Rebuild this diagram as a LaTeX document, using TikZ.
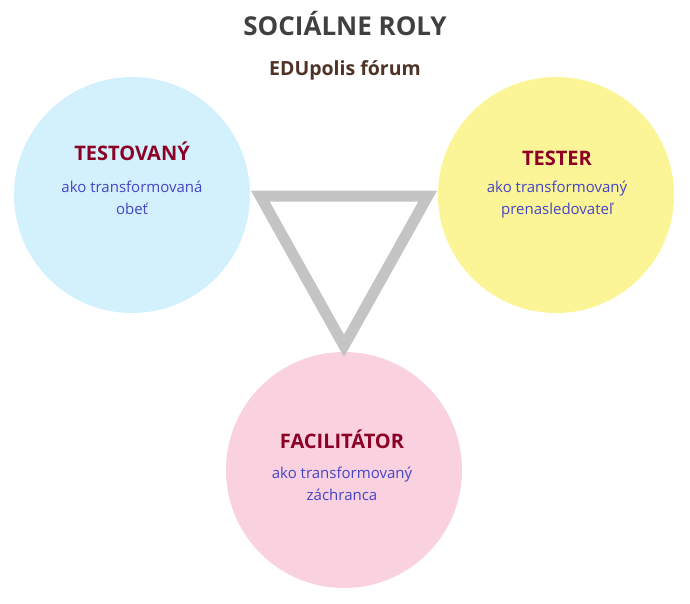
\documentclass[tikz,border=0pt]{standalone}
\usepackage{fontspec}
\setmainfont{Open Sans}
\usepackage{tikz}
\usetikzlibrary{positioning}
\definecolor{rolblue}{RGB}{211,240,253}
\definecolor{rolyellow}{RGB}{251,245,151}
\definecolor{rolpink}{RGB}{249,209,223}
\definecolor{rolgray}{RGB}{196,196,196}
\definecolor{rolred}{RGB}{139,0,36}
\definecolor{rolink}{RGB}{69,69,198}
\definecolor{roldark}{RGB}{64,64,64}
\definecolor{rolbrown}{RGB}{79,51,39}
\tikzstyle{role} = [circle, minimum size=236pt, inner sep=0pt]
\tikzstyle{rolename} = [anchor=base, inner sep=0pt, text=rolred, font=\fontsize{20}{24}\selectfont\bfseries]
\tikzstyle{rolesub} = [anchor=base, inner sep=0pt, align=center, text=rolink, font=\fontsize{15}{22}\selectfont]
\tikzstyle{tri} = [line width=11pt, color=rolgray]

\begin{document}
\begin{tikzpicture}[x=1pt, y=-1pt]
\useasboundingbox (0,0) rectangle (690,603);
% heading
\node (title) [anchor=base, text=roldark, font=\fontsize{26}{30}\selectfont\bfseries] at (345,35) {SOCIÁLNE ROLY};
\node (forum) [anchor=base, text=rolbrown, font=\fontsize{19.5}{22}\selectfont\bfseries] at (345,75) {EDUpolis fórum};

% the three roles
\node (testovany) [role, fill=rolblue] at (132,195) {};
\node (tester) [role, fill=rolyellow] at (556,195) {};
\node (facilitator) [role, fill=rolpink] at (344,470) {};

% triangle between them
\coordinate (tl) at ([xshift=10pt, yshift=-1pt]testovany.east);
\coordinate (tr) at ([xshift=-10pt, yshift=-1pt]tester.west);
\coordinate (bt) at ([yshift=6pt]facilitator.north);
\draw[tri] (tl) -- (tr) -- (bt) -- cycle;

% texts
\node (testovanyName) [rolename] at (132,160) {TESTOVANÝ};
\node (testovanyRole) [rolesub] at (132,214) {ako transformovaná\\obeť};
\node (testerName) [rolename] at (557,165) {TESTER};
\node (testerRole) [rolesub] at (557,214) {ako transformovaný\\prenasledovateľ};
\node (facilitatorName) [rolename] at (342,448) {FACILITÁTOR};
\node (facilitatorRole) [rolesub] at (342,500) {ako transformovaný\\záchranca};
\end{tikzpicture}
\end{document}
